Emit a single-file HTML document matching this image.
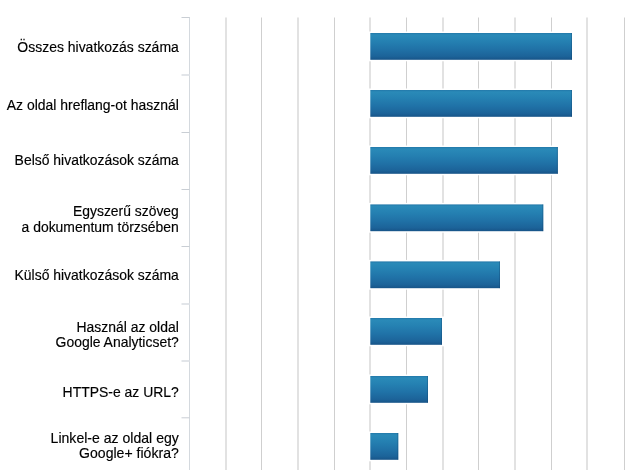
<!DOCTYPE html>
<html lang="hu">
<head>
<meta charset="utf-8">
<title>Chart</title>
<style>
html,body{margin:0;padding:0;background:#fff;}
body{width:640px;height:470px;overflow:hidden;position:relative;}
svg{position:absolute;left:0;top:0;display:block;}
text{font-family:"Liberation Sans",Arial,sans-serif;font-size:14px;fill:#000;stroke:#000;stroke-width:0.15px;}
</style>
</head>
<body>
<svg width="640" height="470" viewBox="0 0 640 470">
<defs>
<linearGradient id="g" x1="0" y1="0" x2="0" y2="1">
<stop offset="0" stop-color="#2378a9"/>
<stop offset="0.07" stop-color="#2a8ab8"/>
<stop offset="0.3" stop-color="#2581b2"/>
<stop offset="0.6" stop-color="#2072a7"/>
<stop offset="0.87" stop-color="#1c6399"/>
<stop offset="1" stop-color="#175488"/>
</linearGradient>
</defs>
<rect x="0" y="0" width="640" height="470" fill="#ffffff"/>

<rect x="225" y="17.5" width="2" height="453" fill="#e2e2e2"/>
<rect x="261.0" y="17.5" width="1" height="453" fill="#cfcfcf"/>
<rect x="297" y="17.5" width="2" height="453" fill="#e2e2e2"/>
<rect x="334.0" y="17.5" width="1" height="453" fill="#cfcfcf"/>
<rect x="369" y="17.5" width="2" height="453" fill="#e2e2e2"/>
<rect x="406.0" y="17.5" width="1" height="453" fill="#cfcfcf"/>
<rect x="442" y="17.5" width="2" height="453" fill="#e2e2e2"/>
<rect x="478.0" y="17.5" width="1" height="453" fill="#cfcfcf"/>
<rect x="514" y="17.5" width="2" height="453" fill="#e2e2e2"/>
<rect x="551.0" y="17.5" width="1" height="453" fill="#cfcfcf"/>
<rect x="586" y="17.5" width="2" height="453" fill="#e2e2e2"/>
<rect x="624.0" y="17.5" width="1" height="453" fill="#cfcfcf"/>
<rect x="189" y="17" width="1" height="453" fill="#d4d9de"/>
<rect x="181.5" y="17.00" width="8" height="1" fill="#c9ced4"/>
<rect x="181.5" y="74.00" width="8" height="2" fill="#e2e5e9"/>
<rect x="181.5" y="132.00" width="8" height="1" fill="#c9ced4"/>
<rect x="181.5" y="189.00" width="8" height="1" fill="#c9ced4"/>
<rect x="181.5" y="246.00" width="8" height="1" fill="#c9ced4"/>
<rect x="181.5" y="303.00" width="8" height="2" fill="#e2e5e9"/>
<rect x="181.5" y="360.00" width="8" height="2" fill="#e2e5e9"/>
<rect x="181.5" y="417.30" width="8" height="1" fill="#c9ced4"/>
<rect x="369" y="31.50" width="205.20" height="29.80" fill="#ffffff"/>
<rect x="370.3" y="33.00" width="201.70" height="26.8" fill="url(#g)"/>
<rect x="571.00" y="33.00" width="1" height="26.8" fill="#0c3a66" fill-opacity="0.3"/>
<rect x="369" y="88.50" width="205.20" height="29.80" fill="#ffffff"/>
<rect x="370.3" y="90.00" width="201.70" height="26.8" fill="url(#g)"/>
<rect x="571.00" y="90.00" width="1" height="26.8" fill="#0c3a66" fill-opacity="0.3"/>
<rect x="369" y="145.50" width="191.10" height="29.80" fill="#ffffff"/>
<rect x="370.3" y="147.00" width="187.60" height="26.8" fill="url(#g)"/>
<rect x="556.90" y="147.00" width="1" height="26.8" fill="#0c3a66" fill-opacity="0.3"/>
<rect x="369" y="202.90" width="176.50" height="29.80" fill="#ffffff"/>
<rect x="370.3" y="204.40" width="173.00" height="26.8" fill="url(#g)"/>
<rect x="542.30" y="204.40" width="1" height="26.8" fill="#0c3a66" fill-opacity="0.3"/>
<rect x="369" y="259.90" width="133.20" height="29.80" fill="#ffffff"/>
<rect x="370.3" y="261.40" width="129.70" height="26.8" fill="url(#g)"/>
<rect x="499.00" y="261.40" width="1" height="26.8" fill="#0c3a66" fill-opacity="0.3"/>
<rect x="369" y="316.50" width="75.20" height="29.80" fill="#ffffff"/>
<rect x="370.3" y="318.00" width="71.70" height="26.8" fill="url(#g)"/>
<rect x="441.00" y="318.00" width="1" height="26.8" fill="#0c3a66" fill-opacity="0.3"/>
<rect x="369" y="374.50" width="61.20" height="29.80" fill="#ffffff"/>
<rect x="370.3" y="376.00" width="57.70" height="26.8" fill="url(#g)"/>
<rect x="427.00" y="376.00" width="1" height="26.8" fill="#0c3a66" fill-opacity="0.3"/>
<rect x="369" y="431.50" width="31.50" height="29.80" fill="#ffffff"/>
<rect x="370.3" y="433.00" width="28.00" height="26.8" fill="url(#g)"/>
<rect x="397.30" y="433.00" width="1" height="26.8" fill="#0c3a66" fill-opacity="0.3"/>
<text transform="translate(178.8,52.00) scale(0.999,0.99)" x="0" y="0" text-anchor="end">Összes hivatkozás száma</text>
<text transform="translate(178.8,109.90) scale(0.996,0.985)" x="0" y="0" text-anchor="end">Az oldal hreflang-ot használ</text>
<text transform="translate(178.8,165.35) scale(0.996,0.985)" x="0" y="0" text-anchor="end">Belső hivatkozások száma</text>
<text transform="translate(178.8,215.75) scale(0.993,0.985)" x="0" y="0" text-anchor="end">Egyszerű szöveg</text>
<text transform="translate(178.8,231.60) scale(0.996,0.985)" x="0" y="0" text-anchor="end">a dokumentum törzsében</text>
<text transform="translate(178.8,279.80) scale(0.997,0.985)" x="0" y="0" text-anchor="end">Külső hivatkozások száma</text>
<text transform="translate(178.8,331.55) scale(0.996,0.985)" x="0" y="0" text-anchor="end">Használ az oldal</text>
<text transform="translate(178.8,347.20) scale(0.997,0.985)" x="0" y="0" text-anchor="end">Google Analyticset?</text>
<text transform="translate(178.8,396.80) scale(0.996,0.98)" x="0" y="0" text-anchor="end">HTTPS-e az URL?</text>
<text transform="translate(178.8,442.80) scale(1.005,0.985)" x="0" y="0" text-anchor="end">Linkel-e az oldal egy</text>
<text transform="translate(178.8,458.35) scale(1.006,0.985)" x="0" y="0" text-anchor="end">Google+ fiókra?</text>
</svg>
</body>
</html>
